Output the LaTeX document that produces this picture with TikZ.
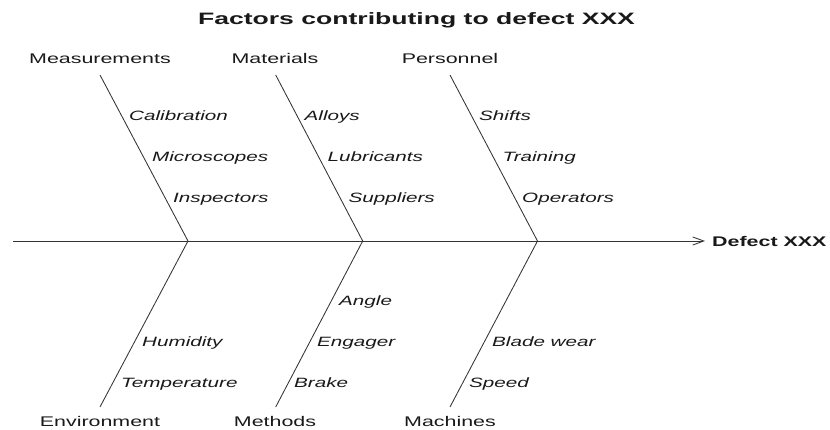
\documentclass[tikz,border=0pt]{standalone}
\usepackage{fontspec}
\setmainfont{Liberation Sans}
\usetikzlibrary{arrows.meta}
\newcommand{\hx}[2][1.53]{\scalebox{#1}[1]{#2}}
\begin{document}
\begin{tikzpicture}[x=1pt,y=-1pt,
  bone/.style={draw=black!80, line width=0.85pt},
  cat/.style={font=\fontsize{14}{16}\selectfont, text=black!90, inner sep=0pt, anchor=base},
  cause/.style={font=\fontsize{13.5}{16}\selectfont\itshape, text=black!90, inner sep=0pt, anchor=base west},
]
\useasboundingbox (0,0) rectangle (830,430);

\node[font=\fontsize{16.5}{18}\selectfont\bfseries, text=black!90, inner sep=0pt, anchor=base] (title) at (416.5,24.7) {\hx[1.61]{Factors contributing to defect XXX}};

% spine
\coordinate (s0) at (13,241);
\coordinate (tip) at (705,241);
\coordinate (j1) at (188,241);
\coordinate (j2) at (362.7,241);
\coordinate (j3) at (537.5,241);
\node[font=\fontsize{14}{16}\selectfont\bfseries, text=black!90, inner sep=0pt, anchor=west] (defect) at (712,241) {\hx{Defect XXX}};
\draw[bone, -{Straight Barb[length=11pt,width=8pt]}] (s0) -- (tip);

% bone ends
\coordinate (t1) at (100,75);
\coordinate (t2) at (275.7,75);
\coordinate (t3) at (450,75);
\coordinate (b1) at (100,407);
\coordinate (b2) at (275.7,407);
\coordinate (b3) at (450,407);
\draw[bone] (t1) -- (j1);
\draw[bone] (t2) -- (j2);
\draw[bone] (t3) -- (j3);
\draw[bone] (j1) -- (b1);
\draw[bone] (j2) -- (b2);
\draw[bone] (j3) -- (b3);

% category labels
\node[cat] (meas) at (100,64) {\hx{Measurements}};
\node[cat] (mat) at (275,64) {\hx{Materials}};
\node[cat] (pers) at (450,64) {\hx{Personnel}};
\node[cat] (env) at (100,426.5) {\hx{Environment}};
\node[cat] (meth) at (275,426.5) {\hx{Methods}};
\node[cat] (mach) at (450,426.5) {\hx{Machines}};

% causes, top
\node[cause] (c11) at (129,120.5) {\hx{Calibration}};
\node[cause] (c12) at (152,161.5) {\hx{Microscopes}};
\node[cause] (c13) at (173,203) {\hx{Inspectors}};
\node[cause] (c21) at (304.5,120.5) {\hx{Alloys}};
\node[cause] (c22) at (327.5,161.5) {\hx{Lubricants}};
\node[cause] (c23) at (348.5,203) {\hx{Suppliers}};
\node[cause] (c31) at (479,120.5) {\hx{Shifts}};
\node[cause] (c32) at (502.5,161.5) {\hx{Training}};
\node[cause] (c33) at (522,203) {\hx{Operators}};

% causes, bottom
\node[cause] (d12) at (142,346.5) {\hx{Humidity}};
\node[cause] (d13) at (121,387.5) {\hx{Temperature}};
\node[cause] (d21) at (339,305.5) {\hx{Angle}};
\node[cause] (d22) at (317,346.5) {\hx{Engager}};
\node[cause] (d23) at (294,387.5) {\hx{Brake}};
\node[cause] (d32) at (492,346.5) {\hx{Blade wear}};
\node[cause] (d33) at (469,387.5) {\hx{Speed}};
\end{tikzpicture}
\end{document}
